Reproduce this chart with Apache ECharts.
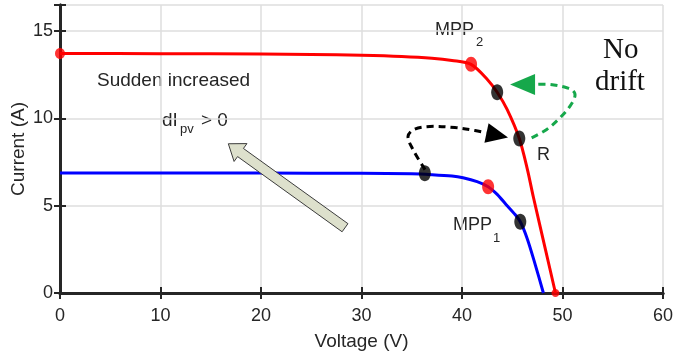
<!DOCTYPE html>
<html>
<head>
<meta charset="utf-8">
<script src="https://cdn.jsdelivr.net/npm/echarts@6/dist/echarts.min.js"></script>
<style>
  html, body { margin: 0; padding: 0; background: #fff; }
  #chart { width: 677px; height: 361px; }
</style>
</head>
<body>
<div id="chart"></div>
<script>
// I-V characteristic at the higher irradiance (red curve)
const voltageHigh = [0, 10, 20, 25, 30, 34, 37, 39, 40.9, 42.5, 43.5, 44.5, 45.7, 46.5, 47.1, 48.3, 49.3];
const currentHigh = [13.72, 13.71, 13.69, 13.67, 13.62, 13.55, 13.45, 13.32, 13.1, 12.25, 11.5, 10.5, 8.85, 7.1, 5.5, 2.5, 0];

// I-V characteristic at the lower irradiance (blue curve)
const voltageLow = [0, 10, 20, 30, 35, 37, 39, 40.1, 41.5, 42.6, 43.5, 44.4, 45.2, 45.8, 46.5, 47.3, 48.1];
const currentLow = [6.88, 6.88, 6.87, 6.86, 6.83, 6.78, 6.7, 6.6, 6.38, 6.09, 5.65, 5.06, 4.55, 4.08, 3.1, 1.6, 0];

// Maximum power points (red markers)
const mppPoints = [[40.9, 13.1], [42.6, 6.09]];
// Curve end points: short-circuit and open-circuit of the red curve
const curveEnds = [[0, 13.72], [49.3, 0]];
// Operating points visited by the tracker (black markers)
const operatingPoints = [[36.3, 6.86], [45.8, 4.08], [45.7, 8.85], [43.5, 11.5]];

// Dashed transitions: path points followed by the arrow tip
const jumpPath = [[36.32, 7.07], [35.12, 8.22], [34.63, 8.97], [35.22, 9.37], [36.82, 9.54], [39.3, 9.48], [41.29, 9.31]];
const jumpTip = [44.58, 8.91];
const returnPath = [[46.93, 8.89], [48.43, 9.37], [49.75, 10.04], [50.75, 10.71], [51.24, 11.28], [51.07, 11.57], [50.42, 11.76], [48.76, 11.95]];
const returnTip = [44.78, 11.95];

// Block arrow for the irradiance step: tail, tip
const stepArrow = [[28.36, 3.74], [16.75, 8.55]];

// Axis ticks
const xTicks = [0, 10, 20, 30, 40, 50, 60];
const yTicks = [0, 5, 10, 15];
const yTop = 16.5;

const textColor = '#262626';
const sans = 'Liberation Sans, Arial, Helvetica, sans-serif';
const serif = 'Liberation Serif, Times New Roman, serif';

const ellipse = 'path://M1,0C1.552,0 2,0.448 2,1C2,1.552 1.552,2 1,2C0.448,2 0,1.552 0,1C0,0.448 0.448,0 1,0Z';

function zip(xs, ys) { return xs.map((x, i) => [x, ys[i]]); }

function dashedArrow(path, tip, color, headLen, headHalf) {
  return {
    type: 'custom',
    silent: true,
    z: 6,
    data: [path[0]],
    renderItem: function (params, api) {
      const pts = path.map(p => api.coord(p));
      const t = api.coord(tip);
      const last = pts[pts.length - 1];
      const dx = t[0] - last[0], dy = t[1] - last[1];
      const len = Math.hypot(dx, dy);
      const ux = dx / len, uy = dy / len;
      const base = [t[0] - ux * headLen, t[1] - uy * headLen];
      const line = pts.concat([base]);
      return {
        type: 'group',
        children: [
          {
            type: 'polyline',
            shape: { points: line, smooth: 0.35 },
            style: { stroke: color, lineWidth: 3, lineDash: [7, 5], fill: null }
          },
          {
            type: 'polygon',
            shape: { points: [t, [base[0] - uy * headHalf, base[1] + ux * headHalf], [base[0] + uy * headHalf, base[1] - ux * headHalf]] },
            style: { fill: color }
          }
        ]
      };
    }
  };
}

const blockArrow = {
  type: 'custom',
  silent: true,
  z: 6,
  data: [stepArrow[0]],
  renderItem: function (params, api) {
    const a = api.coord(stepArrow[0]);
    const b = api.coord(stepArrow[1]);
    const dx = b[0] - a[0], dy = b[1] - a[1];
    const len = Math.hypot(dx, dy);
    const ux = dx / len, uy = dy / len;
    const nx = -uy, ny = ux;
    const shaft = 5, head = 11, headLen = 15;
    const neck = [b[0] - ux * headLen, b[1] - uy * headLen];
    const pts = [
      [a[0] + nx * shaft, a[1] + ny * shaft],
      [neck[0] + nx * shaft, neck[1] + ny * shaft],
      [neck[0] + nx * head, neck[1] + ny * head],
      b,
      [neck[0] - nx * head, neck[1] - ny * head],
      [neck[0] - nx * shaft, neck[1] - ny * shaft],
      [a[0] - nx * shaft, a[1] - ny * shaft]
    ];
    return {
      type: 'polygon',
      shape: { points: pts },
      style: { fill: '#dde0cc', stroke: '#3c3c3c', lineWidth: 1 }
    };
  }
};

const chart = echarts.init(document.getElementById('chart'), null, { renderer: 'canvas' });

const axisLineStyle = { color: '#262626', width: 3 };

chart.setOption({
  animation: false,
  backgroundColor: '#ffffff',
  grid: { left: 60, right: 14, top: 5, bottom: 68, outerBoundsMode: 'none', containLabel: false },
  xAxis: [
    {
      type: 'value',
      min: xTicks[0], max: xTicks[xTicks.length - 1], interval: 10,
      name: 'Voltage (V)', nameLocation: 'middle', nameGap: 39, nameMoveOverlap: false,
      nameTextStyle: { color: textColor, fontSize: 19, fontFamily: sans },
      axisLine: { show: true, lineStyle: axisLineStyle },
      axisTick: { show: true, inside: true, length: 6, lineStyle: { color: '#262626', width: 2 } },
      axisLabel: { color: textColor, fontSize: 18, fontFamily: sans, margin: 14 },
      splitLine: { show: true, lineStyle: { color: '#dedede', width: 1.5 } }
    },
    {
      type: 'value', position: 'top',
      min: xTicks[0], max: xTicks[xTicks.length - 1], interval: 10,
      axisLine: { show: true, lineStyle: axisLineStyle },
      axisTick: { show: true, inside: true, length: 6, lineStyle: { color: '#262626', width: 2 } },
      axisLabel: { show: false },
      splitLine: { show: false }
    }
  ],
  yAxis: [
    {
      type: 'value',
      min: yTicks[0], max: yTop, interval: 5,
      name: 'Current (A)', nameLocation: 'middle', nameGap: 32, nameMoveOverlap: false,
      nameTextStyle: { color: textColor, fontSize: 19, fontFamily: sans },
      axisLine: { show: true, lineStyle: axisLineStyle },
      axisTick: { show: true, inside: true, length: 6, lineStyle: { color: '#262626', width: 2 } },
      axisLabel: {
        color: textColor, fontSize: 18, fontFamily: sans, margin: 7,
        formatter: v => (yTicks.indexOf(v) >= 0 ? String(v) : '')
      },
      splitLine: { show: true, lineStyle: { color: '#dedede', width: 1.5 } }
    },
    {
      type: 'value', position: 'right',
      min: yTicks[0], max: yTop, interval: 5,
      axisLine: { show: true, lineStyle: axisLineStyle },
      axisTick: { show: true, inside: true, length: 6, lineStyle: { color: '#262626', width: 2 } },
      axisLabel: { show: false },
      splitLine: { show: false }
    }
  ],
  series: [
    {
      type: 'line', data: zip(voltageLow, currentLow),
      showSymbol: false, smooth: 0.3,
      lineStyle: { color: '#0000ff', width: 3 }, z: 3
    },
    {
      type: 'line', data: zip(voltageHigh, currentHigh),
      showSymbol: false, smooth: 0.3,
      lineStyle: { color: '#ff0000', width: 3 }, z: 3
    },
    {
      type: 'scatter', data: curveEnds, symbol: ellipse,
      symbolSize: (v, p) => (p.dataIndex === 0 ? [10, 11] : [8, 8]),
      itemStyle: { color: '#ff0000' }, z: 4
    },
    {
      type: 'scatter', data: mppPoints, symbol: ellipse, symbolSize: [12, 15],
      itemStyle: { color: '#ff0000' }, z: 4
    },
    dashedArrow(jumpPath, jumpTip, '#000000', 22, 10),
    dashedArrow(returnPath, returnTip, '#16a84b', 25, 10.5),
    {
      type: 'scatter', data: operatingPoints, symbol: ellipse, symbolSize: [12, 16],
      itemStyle: { color: '#000000' }, z: 7
    },
    blockArrow
  ],
  graphic: [
    { type: 'text', left: 97, top: 71, style: { text: 'Sudden increased', fill: textColor, font: '19px ' + sans } },
    { type: 'text', left: 162, top: 111, style: { text: 'dI', fill: textColor, font: '19px ' + sans } },
    { type: 'text', left: 180, top: 123, style: { text: 'pv', fill: textColor, font: '13px ' + sans } },
    { type: 'text', left: 201, top: 111, style: { text: '> 0', fill: textColor, font: '19px ' + sans } },
    { type: 'text', left: 435, top: 21, style: { text: 'MPP', fill: textColor, font: '18px ' + sans } },
    { type: 'text', left: 476, top: 36, style: { text: '2', fill: textColor, font: '13px ' + sans } },
    { type: 'text', left: 453, top: 216, style: { text: 'MPP', fill: textColor, font: '18px ' + sans } },
    { type: 'text', left: 493, top: 232, style: { text: '1', fill: textColor, font: '13px ' + sans } },
    { type: 'text', left: 537, top: 146, style: { text: 'R', fill: textColor, font: '18px ' + sans } },
    { type: 'text', left: 603, top: 36, style: { text: 'No', fill: '#111111', font: '29px ' + serif } },
    { type: 'text', left: 595, top: 68, style: { text: 'drift', fill: '#111111', font: '29px ' + serif } }
  ]
});
</script>
</body>
</html>
